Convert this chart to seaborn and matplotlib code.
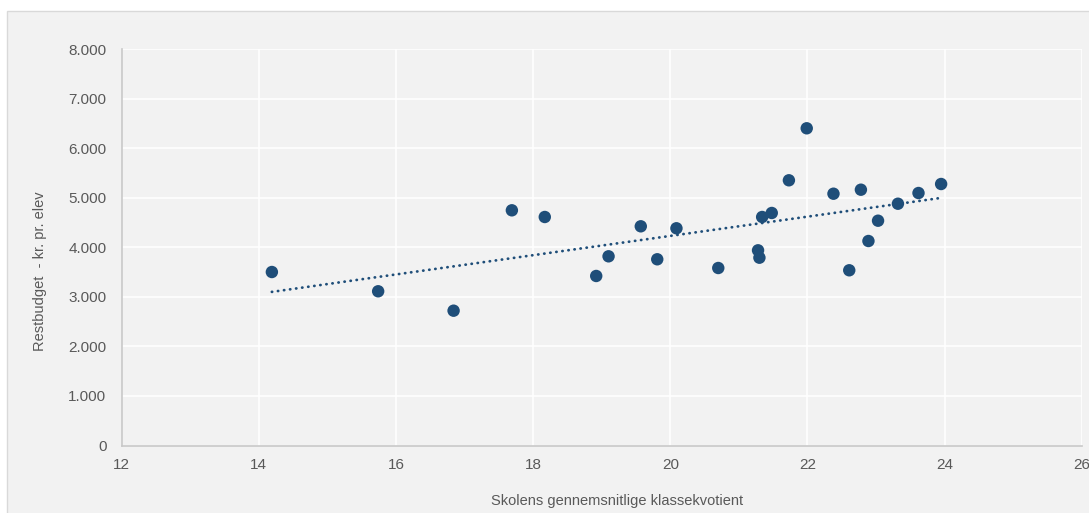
import numpy as np
import pandas as pd
import seaborn as sns
import matplotlib.pyplot as plt
from matplotlib.patches import Rectangle
from matplotlib.ticker import FuncFormatter, MultipleLocator

# klassekvotient (x) og restbudget pr. elev (y)
klassekvotient = [14.19, 15.74, 16.84, 17.69, 18.17, 18.92, 19.10, 19.57, 19.81, 20.09,
                  20.70, 21.28, 21.30, 21.34, 21.48, 21.73, 21.99, 22.38, 22.61, 22.78,
                  22.89, 23.03, 23.32, 23.62, 23.95]
restbudget = [3503, 3114, 2722, 4749, 4614, 3423, 3820, 4426, 3760, 4386,
              3584, 3941, 3792, 4614, 4695, 5355, 6405, 5084, 3538, 5165,
              4129, 4539, 4882, 5098, 5280]

x_label = "Skolens gennemsnitlige klassekvotient"
y_label = "Restbudget  - kr. pr. elev"

df = pd.DataFrame({"x": klassekvotient, "y": restbudget})

sns.set_style("white")
plt.rcParams['font.family'] = ['Liberation Sans', 'DejaVu Sans']

blue = "#1f4e79"
grey_txt = "#595959"
bg = "#f2f2f2"

fig = plt.figure(figsize=(10.89, 5.13), dpi=100, facecolor="white")
# grey chart area with thin border
fig.patches.append(Rectangle((7/1089, -0.01), 1.0, (513-11)/513 + 0.01, transform=fig.transFigure,
                             facecolor=bg, edgecolor="#d9d9d9", linewidth=1, zorder=-10))
ax = fig.add_axes([121.7/1089, (513-445.5)/513, (1081.7-121.7)/1089, (445.5-49.3)/513])
ax.set_zorder(1)
ax.set_facecolor(bg)

sns.regplot(data=df, x="x", y="y", ax=ax, ci=None,
            scatter_kws=dict(s=80, color=blue, edgecolor="none", alpha=1, zorder=3),
            line_kws=dict(color=blue, linewidth=2.0, linestyle=(0, (0.1, 2.1)),
                          dash_capstyle="round", zorder=2))

ax.set_xlim(12, 26)
ax.set_ylim(0, 8000)
ax.xaxis.set_major_locator(MultipleLocator(2))
ax.yaxis.set_major_locator(MultipleLocator(1000))
ax.yaxis.set_major_formatter(FuncFormatter(lambda v, p: f"{int(v):,}".replace(",", ".")))

ax.grid(True, color="white", linewidth=1.2)
ax.set_axisbelow(True)
for s in ["top", "right"]:
    ax.spines[s].set_visible(False)
for s in ["left", "bottom"]:
    ax.spines[s].set_color("#c8c8c8")
    ax.spines[s].set_linewidth(1.2)

ax.tick_params(axis="both", length=0, labelsize=11, labelcolor=grey_txt)
ax.tick_params(axis="x", pad=9)
ax.tick_params(axis="y", pad=11)

ax.set_xlabel(x_label, fontsize=10.5, color=grey_txt)
ax.set_ylabel(y_label, fontsize=10.5, color=grey_txt)
ax.xaxis.set_label_coords((617-121.7)/960, -(501-445.5)/396.2)
ax.yaxis.set_label_coords(-(121.7-40)/960, (445.5-271)/396.2)
ax.xaxis.label.set_va("center")
ax.yaxis.label.set_va("center")

fig.savefig("out.png", dpi=100, facecolor="white")
